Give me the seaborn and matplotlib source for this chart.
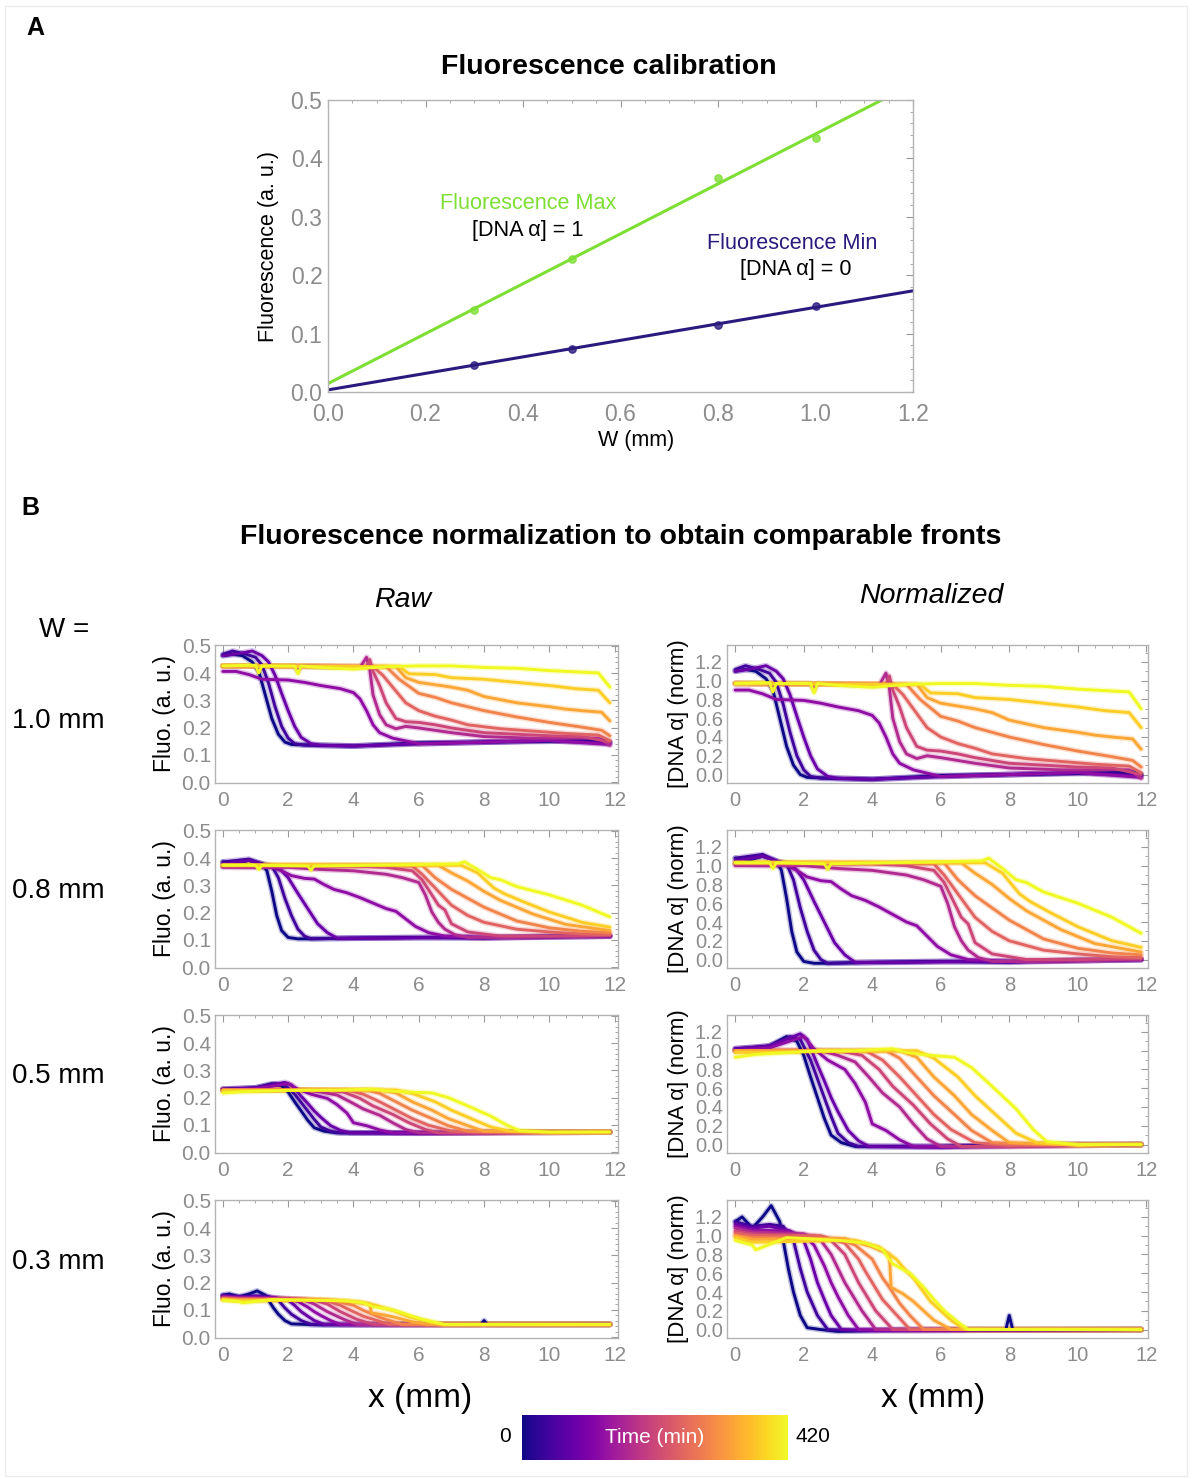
import matplotlib
matplotlib.use("Agg")
import matplotlib.pyplot as plt
import seaborn as sns
import pandas as pd
import numpy as np
from matplotlib.ticker import MultipleLocator, FormatStrFormatter
from matplotlib.patches import Rectangle

# ---------------- data ----------------
# Panel A: calibration points (W in mm)
cal_w = [0.3, 0.5, 0.8, 1.0]
cal_max = [0.140, 0.228, 0.366, 0.435]
cal_min = [0.047, 0.074, 0.114, 0.147]

# Panel B: time of each profile (min)
times = [0, 42, 84, 126, 168, 210, 252, 294, 336, 378, 420]
widths = [1.0, 0.8, 0.5, 0.3]
row_labels = ["1.0 mm", "0.8 mm", "0.5 mm", "0.3 mm"]

# normalized profiles [DNA a] vs x (mm), one (x, y) pair per time
fronts_w10 = [
    ([0, 0.3, 0.6, 0.9, 1.1, 1.3, 1.5, 1.7, 1.9, 2.1, 3, 4, 5, 6, 8, 10, 11.6, 11.85],
     [1.10, 1.12, 1.10, 1.02, 0.90, 0.60, 0.30, 0.10, 0.00, -0.03, -0.04, -0.05, -0.03, -0.01, 0.00, 0.01, 0.03, 0.0]),
    ([0, 0.3, 0.7, 1.0, 1.2, 1.4, 1.6, 1.8, 2.0, 2.2, 2.5, 4, 6, 8, 10, 11.85],
     [1.12, 1.16, 1.12, 1.08, 0.98, 0.75, 0.45, 0.20, 0.05, -0.02, -0.04, -0.05, -0.02, 0.0, 0.02, 0.0]),
    ([0, 0.4, 0.9, 1.2, 1.4, 1.6, 1.8, 2.0, 2.2, 2.4, 2.7, 3.0, 4, 6, 8, 10, 11.85],
     [1.10, 1.12, 1.16, 1.10, 1.02, 0.85, 0.62, 0.40, 0.20, 0.06, -0.02, -0.04, -0.05, -0.02, 0.0, 0.02, -0.02]),
    ([0, 0.4, 0.8, 1.2, 2.0, 2.5, 3.0, 3.6, 4.0, 4.2, 4.4, 4.6, 4.8, 5.2, 6, 8, 10, 11.85],
     [0.90, 0.90, 0.86, 0.80, 0.79, 0.76, 0.72, 0.68, 0.63, 0.55, 0.40, 0.22, 0.12, 0.05, -0.02, 0.0, 0.02, -0.03]),
    ([0, 1.0, 1.1, 1.2, 2.2, 2.3, 2.4, 4.2, 4.4, 4.5, 4.6, 4.8, 5.0, 5.3, 5.6, 6.0, 7.0, 8.0, 9.5, 11.5, 11.85],
     [0.97, 0.97, 0.90, 0.97, 0.97, 0.90, 0.97, 0.95, 1.08, 0.92, 0.60, 0.35, 0.22, 0.17, 0.20, 0.18, 0.12, 0.07, 0.05, 0.05, -0.04]),
    ([0, 4.4, 4.5, 4.6, 4.8, 5.0, 5.3, 5.6, 6.0, 6.5, 7.0, 8.0, 9.0, 10.0, 11.0, 11.85],
     [0.97, 0.96, 1.05, 0.90, 0.72, 0.50, 0.30, 0.26, 0.25, 0.22, 0.18, 0.12, 0.10, 0.08, 0.07, 0.0]),
    ([0, 4.6, 4.9, 5.2, 5.6, 6.0, 6.5, 7.0, 7.5, 8.5, 9.5, 10.5, 11.5, 11.85],
     [0.97, 0.96, 0.85, 0.70, 0.50, 0.40, 0.33, 0.28, 0.22, 0.17, 0.14, 0.11, 0.09, 0.02]),
    ([0, 5.0, 5.4, 6.0, 6.5, 7.0, 7.5, 8.0, 9.0, 10.0, 11.0, 11.6, 11.85],
     [0.97, 0.96, 0.80, 0.62, 0.57, 0.50, 0.45, 0.40, 0.32, 0.25, 0.19, 0.15, 0.08]),
    ([0, 5.3, 5.6, 6.0, 7.0, 7.5, 8.0, 9.0, 10.0, 10.5, 11.0, 11.6, 11.85],
     [0.97, 0.96, 0.82, 0.76, 0.70, 0.66, 0.58, 0.50, 0.45, 0.42, 0.40, 0.38, 0.27]),
    ([0, 5.4, 5.7, 6.5, 7.0, 8.0, 9.0, 10.0, 10.8, 11.5, 11.85],
     [0.97, 0.96, 0.87, 0.86, 0.82, 0.80, 0.76, 0.72, 0.68, 0.66, 0.50]),
    ([0, 1.0, 1.1, 1.2, 2.2, 2.3, 2.4, 3.0, 4.0, 5.0, 6.0, 7.0, 8.0, 9.0, 10.0, 11.0, 11.5, 11.85],
     [0.97, 0.98, 0.88, 0.97, 0.97, 0.87, 0.97, 0.95, 0.93, 0.96, 0.97, 0.97, 0.95, 0.94, 0.91, 0.89, 0.88, 0.70]),
]

fronts_w08 = [
    ([0, 0.3, 0.8, 1.2, 1.35, 1.5, 1.65, 1.8, 2.0, 2.3, 2.6, 4, 6, 8, 10, 11.85],
     [1.08, 1.05, 1.10, 1.05, 0.95, 0.65, 0.30, 0.08, -0.02, -0.04, -0.04, -0.03, -0.02, -0.02, -0.01, 0.0]),
    ([0, 0.8, 1.2, 1.5, 1.7, 1.9, 2.1, 2.3, 2.5, 2.7, 4, 6, 8, 10, 11.85],
     [1.08, 1.12, 1.05, 1.02, 0.85, 0.55, 0.30, 0.10, 0.0, -0.04, -0.03, -0.02, -0.03, 0.0, 0.0]),
    ([0, 0.8, 1.2, 1.6, 1.8, 2.0, 2.3, 2.6, 2.9, 3.2, 3.5, 5, 7, 9, 11.85],
     [1.05, 1.10, 1.05, 1.02, 0.95, 0.85, 0.62, 0.40, 0.18, 0.05, -0.03, -0.03, -0.02, -0.02, 0.0]),
    ([0, 1.5, 1.8, 2.1, 2.5, 2.8, 3.1, 3.4, 3.8, 4.2, 4.6, 5.0, 5.3, 5.6, 5.9, 6.3, 6.8, 8, 10, 11.85],
     [1.02, 1.00, 0.95, 0.88, 0.84, 0.83, 0.75, 0.68, 0.63, 0.56, 0.48, 0.40, 0.36, 0.25, 0.14, 0.05, 0.0, -0.02, -0.01, 0.0]),
    ([0, 2, 3, 4, 5, 5.5, 6.0, 6.2, 6.4, 6.6, 6.8, 7.1, 7.5, 9, 11.85],
     [1.00, 1.00, 0.97, 0.95, 0.90, 0.85, 0.78, 0.60, 0.35, 0.20, 0.10, 0.02, -0.02, -0.02, 0.0]),
    ([0, 4, 5, 5.8, 6.1, 6.4, 6.6, 6.8, 7.0, 7.5, 8.5, 10, 11.85],
     [1.02, 1.02, 1.00, 0.95, 0.82, 0.60, 0.45, 0.38, 0.18, 0.06, 0.0, 0.0, 0.01]),
    ([0, 5.8, 6.1, 6.5, 7.0, 7.5, 8.0, 9.0, 10, 11, 11.85],
     [1.02, 1.02, 0.90, 0.70, 0.45, 0.30, 0.20, 0.10, 0.06, 0.03, 0.02]),
    ([0, 6.1, 6.5, 7.0, 7.5, 8.0, 8.5, 9.0, 10, 11, 11.85],
     [1.03, 1.03, 0.85, 0.68, 0.55, 0.42, 0.32, 0.22, 0.12, 0.07, 0.05]),
    ([0, 6.6, 7.0, 7.5, 8.0, 8.5, 9.0, 9.5, 10.5, 11.85],
     [1.03, 1.03, 0.92, 0.80, 0.65, 0.52, 0.42, 0.32, 0.17, 0.08]),
    ([0, 7.3, 7.8, 8.3, 8.6, 9.2, 10.0, 11.0, 11.85],
     [1.04, 1.03, 0.92, 0.70, 0.62, 0.50, 0.35, 0.20, 0.13]),
    ([0, 1.0, 1.1, 1.2, 2.6, 2.7, 2.8, 7.2, 7.4, 7.8, 8.2, 8.5, 9.0, 10.0, 11.0, 11.85],
     [1.03, 1.03, 0.97, 1.03, 1.02, 0.96, 1.02, 1.05, 1.08, 0.97, 0.85, 0.82, 0.72, 0.60, 0.45, 0.28]),
]

fronts_w05 = [
    ([0, 0.5, 1.0, 1.5, 1.8, 2.0, 2.2, 2.4, 2.6, 2.8, 3.1, 3.5, 6, 9, 11.85],
     [1.02, 1.03, 1.05, 1.15, 1.10, 0.95, 0.72, 0.50, 0.28, 0.10, 0.02, -0.02, -0.02, 0.0, 0.0]),
    ([0, 1.0, 1.6, 1.9, 2.2, 2.4, 2.6, 2.8, 3.0, 3.3, 3.6, 6, 9, 11.85],
     [1.02, 1.05, 1.15, 1.12, 0.90, 0.70, 0.50, 0.30, 0.12, 0.02, -0.02, -0.02, 0.0, 0.0]),
    ([0, 1.0, 1.9, 2.1, 2.4, 2.6, 2.8, 3.0, 3.3, 3.6, 3.9, 6, 9, 11.85],
     [1.02, 1.05, 1.18, 1.12, 0.85, 0.68, 0.50, 0.35, 0.15, 0.04, -0.02, -0.03, 0.0, 0.0]),
    ([0, 1.0, 2.0, 2.3, 2.7, 3.2, 3.5, 3.8, 4.0, 4.4, 4.8, 5.2, 7, 11.85],
     [1.00, 1.03, 1.15, 1.02, 0.90, 0.80, 0.65, 0.45, 0.22, 0.15, 0.05, -0.02, -0.02, 0.0]),
    ([0, 2.5, 3.0, 3.5, 3.9, 4.3, 4.8, 5.2, 5.6, 6.0, 8, 11.85],
     [1.00, 1.00, 0.95, 0.88, 0.72, 0.55, 0.40, 0.22, 0.06, -0.02, -0.02, 0.0]),
    ([0, 3.0, 3.7, 4.2, 4.6, 5.2, 5.7, 6.2, 6.6, 8, 11.85],
     [1.00, 1.00, 0.95, 0.80, 0.62, 0.42, 0.22, 0.06, -0.02, -0.02, 0.0]),
    ([0, 3.8, 4.3, 4.8, 5.3, 5.8, 6.3, 7.0, 8, 11.85],
     [1.00, 1.00, 0.90, 0.72, 0.52, 0.32, 0.16, 0.02, -0.01, 0.0]),
    ([0, 4.4, 4.8, 5.3, 5.8, 6.4, 6.9, 7.5, 9, 11.85],
     [1.00, 1.00, 0.92, 0.72, 0.52, 0.32, 0.15, 0.02, 0.0, 0.0]),
    ([0, 4.8, 5.3, 5.8, 6.4, 6.9, 7.5, 8.0, 9.5, 11.85],
     [1.00, 1.00, 0.93, 0.72, 0.52, 0.32, 0.15, 0.02, 0.0, 0.0]),
    ([0, 5.3, 5.8, 6.5, 7.0, 7.6, 8.2, 8.8, 10, 11.85],
     [0.98, 1.00, 0.92, 0.72, 0.52, 0.32, 0.12, 0.02, -0.01, 0.0]),
    ([0, 0.6, 1.5, 2.5, 3.5, 4.6, 5.0, 5.7, 6.4, 6.9, 7.5, 8.2, 8.7, 9.1, 10, 11.85],
     [0.93, 0.96, 0.98, 1.00, 1.00, 1.02, 0.98, 0.95, 0.93, 0.82, 0.62, 0.38, 0.16, 0.03, 0.0, 0.0]),
]

fronts_w03 = [
    ([0, 0.2, 0.5, 0.8, 1.05, 1.3, 1.4, 1.55, 1.7, 1.9, 2.1, 2.5, 3.0, 5, 7.9, 8.0, 8.1, 11.85],
     [1.15, 1.20, 1.08, 1.20, 1.32, 1.15, 0.95, 0.65, 0.40, 0.15, 0.02, 0.0, -0.02, 0.0, 0.0, 0.15, 0.0, 0.0]),
    ([0, 0.5, 1.0, 1.4, 1.7, 1.9, 2.1, 2.4, 2.7, 3.5, 11.85],
     [1.15, 1.10, 1.12, 1.10, 0.95, 0.65, 0.40, 0.15, 0.0, -0.01, 0.0]),
    ([0, 0.5, 1.0, 1.6, 2.0, 2.2, 2.4, 2.6, 2.8, 3.1, 4, 11.85],
     [1.12, 1.08, 1.10, 1.05, 0.95, 0.75, 0.50, 0.32, 0.15, 0.0, -0.01, 0.0]),
    ([0, 0.5, 1.5, 2.0, 2.3, 2.6, 2.8, 3.0, 3.3, 3.6, 5, 11.85],
     [1.10, 1.06, 1.05, 1.00, 0.90, 0.68, 0.50, 0.35, 0.15, 0.0, -0.01, 0.0]),
    ([0, 0.5, 2.0, 2.5, 2.8, 3.0, 3.2, 3.5, 3.7, 4.1, 6, 11.85],
     [1.08, 1.04, 1.02, 0.95, 0.80, 0.65, 0.50, 0.32, 0.20, 0.0, 0.0, 0.0]),
    ([0, 0.5, 2.3, 2.8, 3.2, 3.4, 3.6, 3.9, 4.1, 4.6, 6, 11.85],
     [1.05, 1.02, 1.00, 0.95, 0.80, 0.65, 0.50, 0.32, 0.20, 0.0, 0.0, 0.0]),
    ([0, 0.5, 2.5, 3.2, 3.6, 3.8, 4.0, 4.3, 4.6, 5.1, 7, 11.85],
     [1.03, 1.00, 1.00, 0.92, 0.75, 0.62, 0.50, 0.32, 0.20, 0.0, 0.0, 0.0]),
    ([0, 0.5, 3.0, 3.5, 4.0, 4.3, 4.5, 4.8, 5.1, 5.5, 7, 11.85],
     [1.00, 0.98, 0.97, 0.90, 0.75, 0.55, 0.45, 0.28, 0.15, 0.0, 0.0, 0.0]),
    ([0, 0.5, 3.2, 4.0, 4.5, 4.55, 4.9, 5.2, 5.5, 5.8, 6.3, 7, 11.85],
     [1.00, 0.96, 0.97, 0.88, 0.80, 0.45, 0.38, 0.30, 0.20, 0.10, 0.0, 0.0, 0.0]),
    ([0, 0.5, 3.5, 4.2, 4.7, 5.0, 5.2, 5.5, 5.7, 6.0, 6.3, 6.7, 8, 11.85],
     [0.98, 0.93, 0.95, 0.88, 0.75, 0.62, 0.55, 0.40, 0.30, 0.20, 0.10, 0.0, 0.0, 0.0]),
    ([0, 0.5, 0.6, 1.5, 3.0, 3.8, 4.3, 4.6, 5.1, 5.5, 5.8, 6.1, 6.5, 6.8, 8, 11.85],
     [0.95, 0.90, 0.85, 0.98, 0.95, 0.92, 0.85, 0.70, 0.60, 0.45, 0.32, 0.20, 0.08, 0.0, 0.0, 0.0]),
]

fronts = {1.0: fronts_w10, 0.8: fronts_w08, 0.5: fronts_w05, 0.3: fronts_w03}

# ---------------- long table ----------------
rows = []
for w in widths:
    i = cal_w.index(w)
    fmin, fmax = cal_min[i], cal_max[i]
    for k, (xs, ys) in enumerate(fronts[w]):
        for x, y in zip(xs, ys):
            rows.append({"W": w, "time": times[k], "curve": k, "x": x,
                         "norm": y, "raw": fmin + y * (fmax - fmin)})
df = pd.DataFrame(rows)

# ---------------- style ----------------
sns.set_theme(style="white")
plt.rcParams["font.family"] = ["Liberation Sans", "DejaVu Sans"]
plt.rcParams["text.color"] = "black"
plt.rcParams["axes.labelcolor"] = "black"

GREEN = "#7ddf33"
NAVY = "#2a1a7e"
TICK_C = "#8c8c8c"
FRAME_C = "#b3b3b3"

W_PX, H_PX = 1192, 1479


def rect(left, top, width, height):
    return [left / W_PX, 1 - (top + height) / H_PX, width / W_PX, height / H_PX]


def frame(ax, xmaj, xmin, ymaj, ymin, xfmt, yfmt, size, xpad, ypad):
    ax.xaxis.set_major_locator(MultipleLocator(xmaj))
    ax.xaxis.set_minor_locator(MultipleLocator(xmin))
    ax.yaxis.set_major_locator(MultipleLocator(ymaj))
    ax.yaxis.set_minor_locator(MultipleLocator(ymin))
    ax.xaxis.set_major_formatter(FormatStrFormatter(xfmt))
    ax.yaxis.set_major_formatter(FormatStrFormatter(yfmt))
    ax.tick_params(which="both", direction="in", top=True, right=True,
                   color="#9a9a9a", labelcolor=TICK_C, labelsize=size)
    ax.tick_params(axis="x", pad=xpad)
    ax.tick_params(axis="y", pad=ypad)
    ax.tick_params(which="major", length=5, width=0.8)
    ax.tick_params(which="minor", length=2.5, width=0.6)
    for s in ax.spines.values():
        s.set_color(FRAME_C)
        s.set_linewidth(1.0)


fig = plt.figure(figsize=(W_PX / 100, H_PX / 100), dpi=100)
fig.patches.append(Rectangle((0.004, 0.002), 0.992, 0.994, transform=fig.transFigure,
                             fill=False, edgecolor="#ececec", lw=1.0))

# ---------------- panel A ----------------
axA = fig.add_axes(rect(328, 100, 585, 292))
axA.set_xlim(0, 1.2)
axA.set_ylim(0, 0.5)
sns.regplot(x=cal_w, y=cal_max, ax=axA, ci=None, truncate=False, color=GREEN,
            scatter_kws={"s": 28, "zorder": 3}, line_kws={"lw": 2.2})
sns.regplot(x=cal_w, y=cal_min, ax=axA, ci=None, truncate=False, color=NAVY,
            scatter_kws={"s": 28, "zorder": 3}, line_kws={"lw": 2.2})
axA.set_xlim(0, 1.2)
axA.set_ylim(0, 0.5)
frame(axA, 0.2, 0.05, 0.1, 0.02, "%.1f", "%.1f", 16.5, 8, 4)
axA.set_xlabel("W (mm)", fontsize=15.5, labelpad=6)
axA.xaxis.set_label_coords(0.527, -0.13)
axA.set_ylabel("Fluorescence (a. u.)", fontsize=15.5, labelpad=8)
axA.text(0.41, 0.322, "Fluorescence Max", color=GREEN, fontsize=15.6, ha="center", va="center")
axA.text(0.41, 0.277, "[DNA α] = 1", fontsize=15.6, ha="center", va="center")
axA.text(0.952, 0.255, "Fluorescence Min", color=NAVY, fontsize=15.6, ha="center", va="center")
axA.text(0.96, 0.210, "[DNA α] = 0", fontsize=15.6, ha="center", va="center")

fig.text(35 / W_PX, 1 - 28 / H_PX, "A", fontsize=18, fontweight="bold", ha="center", va="center")
fig.text(609 / W_PX, 1 - 67 / H_PX, "Fluorescence calibration", fontsize=20.5,
         fontweight="bold", ha="center", va="center")

# ---------------- panel B ----------------
fig.text(30 / W_PX, 1 - 508 / H_PX, "B", fontsize=18, fontweight="bold", ha="center", va="center")
fig.text(621 / W_PX, 1 - 537 / H_PX, "Fluorescence normalization to obtain comparable fronts",
         fontsize=20.5, fontweight="bold", ha="center", va="center")
fig.text(403 / W_PX, 1 - 600 / H_PX, "Raw", fontsize=20.5, style="italic", ha="center", va="center")
fig.text(931 / W_PX, 1 - 596 / H_PX, "Normalized", fontsize=20.5, style="italic", ha="center", va="center")
fig.text(64 / W_PX, 1 - 630 / H_PX, "W =", fontsize=20, ha="center", va="center")

row_tops = [645, 830, 1015, 1200]
row_label_y = [721, 891, 1076, 1262]
for r, w in enumerate(widths):
    sub = df[df["W"] == w]
    fig.text(58 / W_PX, 1 - row_label_y[r] / H_PX, row_labels[r], fontsize=20,
             ha="center", va="center")

    axR = fig.add_axes(rect(215, row_tops[r], 403, 138))
    axN = fig.add_axes(rect(727, row_tops[r], 421, 138))
    for ax, col in ((axR, "raw"), (axN, "norm")):
        sns.lineplot(data=sub, x="x", y=col, hue="time", units="curve", estimator=None,
                     sort=False, palette="plasma", hue_norm=(0, 420), legend=False,
                     lw=4.2, alpha=0.25, ax=ax)
        sns.lineplot(data=sub, x="x", y=col, hue="time", units="curve", estimator=None,
                     sort=False, palette="plasma", hue_norm=(0, 420), legend=False,
                     lw=2.1, ax=ax)
        ax.set_xlabel("")

    axR.set_xlim(-0.24, 12.1)
    axR.set_ylim(-0.003, 0.503)
    frame(axR, 2, 0.5, 0.1, 0.02, "%d", "%.1f", 15, 6, 3)
    axR.set_ylabel("Fluo. (a. u.)", fontsize=16.5, labelpad=4)

    axN.set_xlim(-0.24, 12.05)
    axN.set_ylim(-0.09, 1.38)
    frame(axN, 2, 0.5, 0.2, 0.1, "%d", "%.1f", 14.5, 6, 3)
    axN.set_ylabel("[DNA α] (norm)", fontsize=16, labelpad=4)

fig.text(420 / W_PX, 1 - 1398 / H_PX, "x (mm)", fontsize=24, ha="center", va="center")
fig.text(933 / W_PX, 1 - 1398 / H_PX, "x (mm)", fontsize=24, ha="center", va="center")

# colorbar for time
cax = fig.add_axes(rect(522, 1415, 266, 45))
sm = plt.cm.ScalarMappable(cmap="plasma", norm=plt.Normalize(0, 420))
cb = fig.colorbar(sm, cax=cax, orientation="horizontal")
cb.set_ticks([])
cb.outline.set_visible(False)
cax.text(0.5, 0.5, "Time (min)", color="white", fontsize=15, ha="center", va="center",
         transform=cax.transAxes)
fig.text(505 / W_PX, 1 - 1437 / H_PX, "0", fontsize=15, ha="center", va="center")
fig.text(813 / W_PX, 1 - 1437 / H_PX, "420", fontsize=15, ha="center", va="center")

fig.savefig("out.png", dpi=100)
